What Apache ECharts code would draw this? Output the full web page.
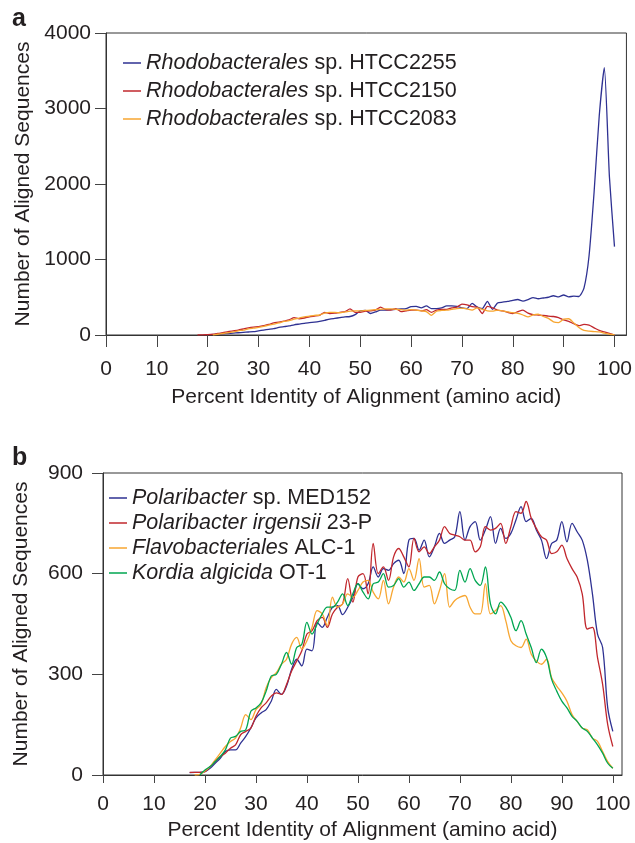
<!DOCTYPE html>
<html>
<head>
<meta charset="utf-8">
<script src="https://cdn.jsdelivr.net/npm/echarts@6/dist/echarts.min.js"></script>
<style>
  html, body { margin: 0; padding: 0; background: #fff; }
  #chart { width: 635px; height: 843px; }
</style>
</head>
<body>
<div id="chart"></div>
<script>
// panel a: percent identity 18..100
const xA = [18, 19, 20, 21, 22, 23, 24, 25, 26, 27, 28, 29, 30, 31, 32, 33, 34, 35, 36, 37, 38, 39,
  40, 41, 42, 43, 44, 45, 46, 47, 48, 49, 50, 51, 52, 53, 54, 55, 56, 57, 58, 59,
  60, 61, 62, 63, 64, 65, 66, 67, 68, 69, 70, 71, 72, 73, 74, 75, 76, 77, 78, 79,
  80, 81, 82, 83, 84, 85, 86, 87, 88, 89, 90, 91, 92, 93, 94, 95, 96, 97, 98, 99, 100]
const htcc2255 = [null, null, null, 5, 10, 15, 20, 25, 30, 35, 40, 45, 55, 65, 75, 85, 100, 110, 120, 135, 145, 155,
  165, 170, 180, 195, 210, 220, 230, 240, 245, 270, 320, 325, 285, 305, 330, 330, 335, 340, 345, 350,
  375, 380, 360, 385, 350, 350, 360, 385, 385, 380, 360, 350, 420, 370, 350, 445, 340, 425, 435, 445,
  460, 470, 450, 470, 495, 480, 490, 500, 520, 505, 530, 505, 515, 510, 620, 1050, 1900, 2900, 3540, 2100, 1170]
const htcc2150 = [0, 2, 5, 10, 20, 30, 45, 55, 65, 80, 95, 105, 110, 125, 140, 160, 170, 185, 200, 230, 215, 225,
  240, 250, 260, 300, 285, 290, 300, 310, 345, 300, 300, 315, 320, 330, 370, 335, 330, 350, 310, 320,
  330, 330, 320, 335, 300, 330, 340, 340, 360, 370, 410, 400, 375, 370, 285, 380, 360, 330, 320, 300,
  285, 310, 330, 290, 270, 265, 260, 250, 245, 230, 200, 180, 150, 125, 140, 130, 95, 60, 40, 20, 0]
const htcc2083 = [null, null, null, 0, 10, 20, 30, 40, 55, 65, 80, 90, 100, 115, 130, 145, 160, 180, 190, 210, 225, 240,
  250, 260, 265, 290, 300, 300, 295, 305, 315, 320, 320, 325, 330, 335, 340, 345, 345, 340, 335, 330,
  335, 330, 320, 310, 260, 315, 325, 330, 340, 350, 355, 345, 330, 360, 340, 320, 315, 330, 320, 305,
  295, 285, 265, 240, 265, 275, 245, 220, 175, 165, 210, 215, 160, 100, 60, 50, 45, 40, 25, 10, 5]

// panel b: percent identity 17..100
const xB = [17, 18, 19, 20, 21, 22, 23, 24, 25, 26, 27, 28, 29, 30, 31, 32, 33, 34, 35, 36, 37, 38, 39,
  40, 41, 42, 43, 44, 45, 46, 47, 48, 49, 50, 51, 52, 53, 54, 55, 56, 57, 58, 59,
  60, 61, 62, 63, 64, 65, 66, 67, 68, 69, 70, 71, 72, 73, 74, 75, 76, 77, 78, 79,
  80, 81, 82, 83, 84, 85, 86, 87, 88, 89, 90, 91, 92, 93, 94, 95, 96, 97, 98, 99, 100]
const med152 = [7, 8, 8, 10, 20, 35, 50, 70, 75, 75, 95, 115, 140, 170, 185, 195, 220, 255, 240, 265, 315, 345, 325,
  375, 370, 455, 440, 470, 500, 505, 478, 500, 530, 570, 555, 570, 620, 590, 615, 610, 630, 640, 600,
  700, 705, 670, 700, 650, 680, 720, 690, 700, 710, 785, 700, 740, 755, 700, 730, 770, 690, 735, 705,
  720, 760, 800, 755, 765, 730, 700, 645, 690, 700, 755, 695, 750, 725, 700, 640, 540, 420, 380, 200, 130]
const irgensii = [8, 8, 8, 10, 25, 40, 55, 65, 80, 90, 120, 130, 140, 175, 200, 215, 235, 245, 240, 270, 310, 340, 370,
  420, 430, 460, 470, 440, 480, 500, 510, 585, 515, 590, 600, 540, 690, 600, 620, 580, 650, 675, 650,
  620, 705, 665, 680, 660, 680, 700, 740, 720, 715, 710, 700, 700, 665, 680, 740, 730, 735, 750, 690,
  740, 785, 780, 815, 765, 735, 710, 700, 660, 665, 685, 645, 615, 590, 540, 435, 440, 350, 270, 150, 85]
const alc1 = [null, 0, 2, 12, 25, 45, 65, 85, 100, 110, 140, 180, 165, 195, 210, 260, 290, 305, 330, 345, 390, 410, 375,
  400, 440, 490, 480, 445, 530, 500, 510, 540, 530, 550, 575, 580, 545, 525, 580, 510, 560, 590, 575,
  615, 580, 645, 560, 565, 510, 550, 600, 500, 520, 530, 535, 500, 480, 480, 570, 480, 490, 505, 460,
  400, 385, 380, 405, 360, 340, 330, 345, 290, 265, 245, 220, 180, 160, 140, 135, 110, 100, 70, 40, 20]
const ot1 = [null, null, 0, 15, 25, 40, 55, 75, 110, 115, 130, 135, 190, 200, 215, 250, 295, 300, 330, 365, 330, 380, 390,
  455, 420, 450, 480, 500, 500, 515, 540, 505, 540, 570, 545, 525, 570, 575, 600, 560, 565, 585, 560,
  575, 550, 570, 590, 590, 580, 605, 570, 555, 550, 610, 575, 615, 580, 565, 620, 510, 480, 515, 500,
  470, 430, 460, 420, 380, 335, 375, 350, 285, 250, 220, 200, 175, 160, 140, 130, 110, 90, 65, 35, 20]

const xTicks = [0, 10, 20, 30, 40, 50, 60, 70, 80, 90, 100]

// legend names: [italic part, plain part]
const namesA = [['Rhodobacterales', ' sp. HTCC2255'], ['Rhodobacterales', ' sp. HTCC2150'], ['Rhodobacterales', ' sp. HTCC2083']]
const namesB = [['Polaribacter', ' sp. MED152'], ['Polaribacter irgensii', ' 23-P'], ['Flavobacteriales', ' ALC-1'], ['Kordia algicida', ' OT-1']]

const BLUE = '#2e3192'
const RED = '#c1272d'
const ORANGE = '#f7a631'
const GREEN = '#00a651'
const FONT = 'Liberation Sans'
const TXT = '#231f20'

const zip = (xs, ys) => xs.map((x, i) => [x, ys[i]])
const fullName = p => p[0] + p[1]

const chart = echarts.init(document.getElementById('chart'))

const xAxisBase = (gridIndex, max, tickLen, margin, nameGap) => ({
  type: 'value', gridIndex, min: 0, max,
  name: 'Percent Identity of Alignment (amino acid)',
  nameLocation: 'middle', nameGap,
  nameTextStyle: { fontFamily: FONT, fontSize: 21, color: TXT },
  axisLine: { lineStyle: { color: '#333', width: 1 } },
  axisTick: { inside: false, length: tickLen, customValues: xTicks, lineStyle: { color: '#444' } },
  axisLabel: { customValues: xTicks, margin, fontFamily: FONT, fontSize: 21, color: TXT },
  splitLine: { show: false }
})

const yAxisBase = (gridIndex, max, interval, margin) => ({
  type: 'value', gridIndex, min: 0, max, interval,
  name: 'Number of Aligned Sequences',
  nameLocation: 'middle', nameGap: 71, nameRotate: 90,
  nameTextStyle: { fontFamily: FONT, fontSize: 21, color: TXT },
  axisLine: { show: true, lineStyle: { color: '#333', width: 1 } },
  axisTick: { show: true, inside: false, length: 11, lineStyle: { color: '#444' } },
  axisLabel: { margin, fontFamily: FONT, fontSize: 21, color: TXT, formatter: v => String(v) },
  splitLine: { show: false }
})

const lineSeries = (name, x, y, color, xi, smooth) => ({
  name: fullName(name), type: 'line', xAxisIndex: xi, yAxisIndex: xi,
  data: zip(x, y), showSymbol: false, symbol: 'none', smooth,
  lineStyle: { color, width: 1.3 }, itemStyle: { color },
  connectNulls: false, silent: true
})

const legendBase = (names, left, top, gap, size, iconW) => ({
  orient: 'vertical', left, top, itemGap: gap,
  icon: 'rect', itemWidth: iconW, itemHeight: 1.5,
  data: names.map(fullName),
  formatter: n => {
    const p = names.find(q => fullName(q) === n)
    return '{i|' + p[0] + '}' + p[1]
  },
  textStyle: {
    fontFamily: FONT, fontSize: size, color: TXT,
    rich: { i: { fontFamily: FONT, fontSize: size, fontStyle: 'italic', color: TXT } }
  }
})

const option = {
  animation: false,
  backgroundColor: '#fff',
  title: [
    { text: 'a', left: 7, top: 2, textStyle: { fontFamily: FONT, fontSize: 25, fontWeight: 'bold', color: TXT } },
    { text: 'b', left: 7, top: 441, textStyle: { fontFamily: FONT, fontSize: 25, fontWeight: 'bold', color: TXT } }
  ],
  grid: [
    { left: 106, top: 33, width: 522, height: 302, show: true, borderColor: '#333', borderWidth: 1, backgroundColor: 'transparent' },
    { left: 103, top: 473, width: 519, height: 302, show: true, borderColor: '#333', borderWidth: 1, backgroundColor: 'transparent' }
  ],
  xAxis: [xAxisBase(0, 102.35, 12, 24, 52), xAxisBase(1, 101.8, 8, 19, 45)],
  yAxis: [yAxisBase(0, 4000, 1000, 15), yAxisBase(1, 900, 300, 20)],
  legend: [
    legendBase(namesA, 118, 47, 6, 21.5, 18),
    legendBase(namesB, 104, 482, 3, 21.5, 18)
  ],
  series: [
    lineSeries(namesA[0], xA, htcc2255, BLUE, 0, 0.2),
    lineSeries(namesA[1], xA, htcc2150, RED, 0, 0.2),
    lineSeries(namesA[2], xA, htcc2083, ORANGE, 0, 0.2),
    lineSeries(namesB[0], xB, med152, BLUE, 1, 0.35),
    lineSeries(namesB[1], xB, irgensii, RED, 1, 0.35),
    lineSeries(namesB[2], xB, alc1, ORANGE, 1, 0.35),
    lineSeries(namesB[3], xB, ot1, GREEN, 1, 0.35)
  ]
}

chart.setOption(option)
</script>
</body>
</html>
